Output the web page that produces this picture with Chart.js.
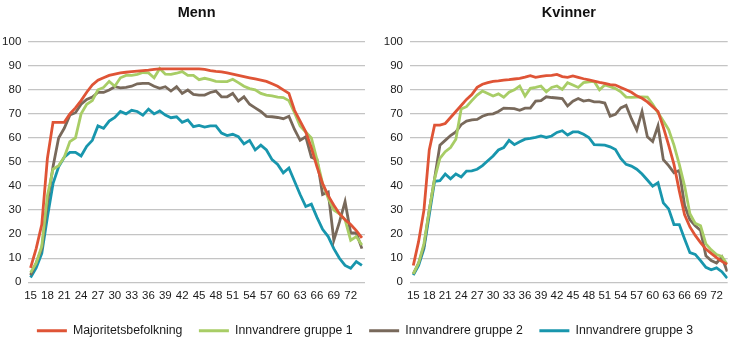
<!DOCTYPE html>
<html><head><meta charset="utf-8">
<script src="https://cdn.jsdelivr.net/npm/chart.js@4.4.1/dist/chart.umd.min.js"></script>
<style>
html,body{margin:0;padding:0;background:#fff;width:730px;height:351px;overflow:hidden;position:relative}
canvas{position:absolute}
#c1{left:0;top:0;width:365px;height:310px}
#c2{left:365px;top:0;width:365px;height:310px}
#leg{left:0;top:308px;width:730px;height:120px}
</style></head><body>
<canvas id="c1" width="365" height="310"></canvas>
<canvas id="c2" width="365" height="310"></canvas>
<canvas id="leg" width="730" height="120"></canvas>
<script>
// Ages (categories)
const ages = [15,16,17,18,19,20,21,22,23,24,25,26,27,28,29,30,31,32,33,34,35,36,37,38,39,40,41,42,43,44,45,46,47,48,49,50,51,52,53,54,55,56,57,58,59,60,61,62,63,64,65,66,67,68,69,70,71,72,73,74];
const xTickLabels = [15,18,21,24,27,30,33,36,39,42,45,48,51,54,57,60,63,66,69,72];
const yTickLabels = [0,10,20,30,40,50,60,70,80,90,100];
const seriesNames = ["Majoritetsbefolkning","Innvandrere gruppe 1","Innvandrere gruppe 2","Innvandrere gruppe 3"];
const panelTitles = ["Menn","Kvinner"];

// Menn
const majMenn = [6,14,24,51.5,66.5,66.5,66.5,70,72.5,75.5,79,82,84,85,86,86.5,87,87.3,87.6,87.8,88,88.2,88.5,88.7,88.7,88.7,88.7,88.7,88.7,88.7,88.7,88.5,88,87.7,87.5,87,86.5,86,85.5,85,84.5,84,83.5,82.5,81.5,80,78.5,71.5,67,62.5,56,48,41,36,32,28.5,26,24,21.5,18.5];
const g1Menn = [4,8,15,36,47,48.5,52,58.5,60,70,74,75.5,80,81,83.5,81.5,85,86,86,86.4,87.2,87,85,88.9,86.5,86.4,86.9,87.6,86,86,84.2,84.8,84.2,83.5,83.4,83.4,84.4,83,81.5,80.5,80,78.5,77.8,77.5,77,76.8,75.5,70.5,65,62.5,60,51,41,35,30,28.5,26,17.5,19,15.5];
const g2Menn = [3,8,14,33,48,60,64,69.5,70.5,74,76,77,78.9,78.9,79.9,81.3,80.8,81,81.5,82.5,82.7,82.7,81.5,80.6,81.3,79.5,81.3,78.5,79.9,78.1,77.8,77.8,78.9,79.5,77.1,77.1,78.5,75.3,77.1,74,72.5,71,69,68.8,68.5,68,69,63.5,59,60.5,52,51,36.5,37.5,17.5,25,33.5,20.5,20.5,14];
const g3Menn = [2,6,12,27,41,48,52,54,54,52.5,56.5,59,65,64,67,68.5,71,70,71.5,71,69.5,72,70,71.2,69.5,68.4,68.8,66.5,67.5,64.7,65.2,64.5,65,65,62,61,61.5,60.5,57.5,59,55,57,55,51,49,45.5,47.5,42,36.5,31.5,32.5,27,22,19,14,10,7,5.8,8.6,7];

// Kvinner
const majKv = [7,17,30,55,65.3,65.3,66,68.5,71,73.5,76,78,81,82.3,83,83.5,83.7,84,84.2,84.5,84.8,85.3,85.9,85.2,85.6,85.9,86,86.4,85.5,85.2,85.8,85.2,84.6,84.1,83.6,83.1,82.7,82.2,82,81,80,79,77.5,76.5,75,73,71,64.5,57,49,38,28,23,19.5,16.5,13.8,12,10.3,8.7,7.5];
const g1Kv = [3.5,8,16,30,43,51.5,54.3,56,59.5,72,73,75.5,77.8,79.5,78.5,77.4,78.3,76.9,79,80,81.6,77.4,80.6,81,81.6,79.2,81,81.6,80.2,83,82,81,83,83.3,83.5,80,82,81.3,80.5,79.2,77,76.9,77,77.1,77,74,70.5,67,63.5,57,49,40,28.5,24.5,23.5,16,13.5,11.5,10.8,7.5];
const g2Kv = [3.5,8,15,30,43,57,59,61,62.5,65.5,67,67.5,67.7,69,69.8,70,71,72.4,72.3,72.2,71.5,72.4,72.4,75.3,75.5,77.1,76.8,76.6,76.4,73.3,75.3,76.4,75.3,75.7,75,75,74.5,69,69.8,72.5,73.5,68,63.3,71,60.5,58.5,65,51,48.5,45.5,46.5,32,26,23.5,21.5,11,9,8,10.5,4.5];
const g3Kv = [3,7,14,28,42,42.2,45,43,45,43.8,46.2,46.3,47,48.5,50.5,52.5,55,56,59,57.2,58.4,59.5,59.8,60.2,60.8,60.2,60.8,62.3,63,61.2,62.5,62.5,61.5,60.2,57.2,57.1,57,56.3,55.2,51.5,49,48.3,47,45,42.5,40,41.4,33,30.5,24,24,18,12.3,11.6,9,6.2,5.2,6,4.4,1.7];

const colors = ["#df5436","#a8cd66","#78695b","#1896ad"];

Chart.defaults.font.family = "'Liberation Sans', Arial, sans-serif";
Chart.defaults.color = "#1a1a1a";

function pts(arr){ return ages.map((a,i)=>({x:a, y:arr[i]})); }

function makePanel(id, title, seriesArr, xmin, xmax, yWidth){
  return new Chart(document.getElementById(id), {
    type: 'line',
    data: {
      datasets: seriesArr.map((s,i)=>({
        label: seriesNames[i], data: pts(s),
        borderColor: colors[i], backgroundColor: colors[i],
        borderWidth: 2.8, pointRadius: 0, tension: 0, fill: false
      }))
    },
    options: {
      responsive: false, animation: false, events: [],
      layout: { padding: { left: 0, right: 0, top: 0, bottom: 0 } },
      plugins: {
        legend: { display: false },
        tooltip: { enabled: false },
        title: { display: true, text: title, fullSize: false, color: '#111',
                 font: { size: 14.5, weight: 'bold' }, padding: { top: 4, bottom: 20.3 } }
      },
      scales: {
        x: {
          type: 'linear', min: xmin, max: xmax,
          grid: { display: false, drawTicks: false },
          border: { display: false },
          afterBuildTicks: (s) => { s.ticks = xTickLabels.map(v => ({ value: v })); },
          afterFit: (s) => { s.height = 27.7; },
          ticks: { autoSkip: false, maxRotation: 0, padding: 7, font: { size: 11.5 }, color: '#1a1a1a' }
        },
        y: {
          min: 0, max: 100,
          afterBuildTicks: (s) => { s.ticks = yTickLabels.map(v => ({ value: v })); },
          afterFit: (s) => { s.width = yWidth; },
          grid: { color: '#c4c4c4', lineWidth: 1.3, drawTicks: false },
          border: { display: false },
          ticks: { padding: 7, font: { size: 11.5 }, color: '#1a1a1a' }
        }
      }
    }
  });
}

makePanel('c1', panelTitles[0], [majMenn, g1Menn, g2Menn, g3Menn], 14.6, 74.55, 28.3);
makePanel('c2', panelTitles[1], [majKv, g1Kv, g2Kv, g3Kv], 14.38, 74.1, 45);

new Chart(document.getElementById('leg'), {
  type: 'line',
  data: { datasets: seriesNames.map((n,i)=>({ label: n, data: [], borderColor: colors[i], backgroundColor: colors[i], borderWidth: 0 })) },
  options: {
    responsive: false, animation: false, events: [],
    layout: { padding: 0 },
    scales: { x: { display: false }, y: { display: false } },
    plugins: {
      tooltip: { enabled: false },
      legend: { position: 'top', maxHeight: 100,
                labels: { boxWidth: 30, boxHeight: 3, padding: 16.5, font: { size: 12.3 }, color: '#1a1a1a' } }
    }
  }
});
</script>
</body></html>
